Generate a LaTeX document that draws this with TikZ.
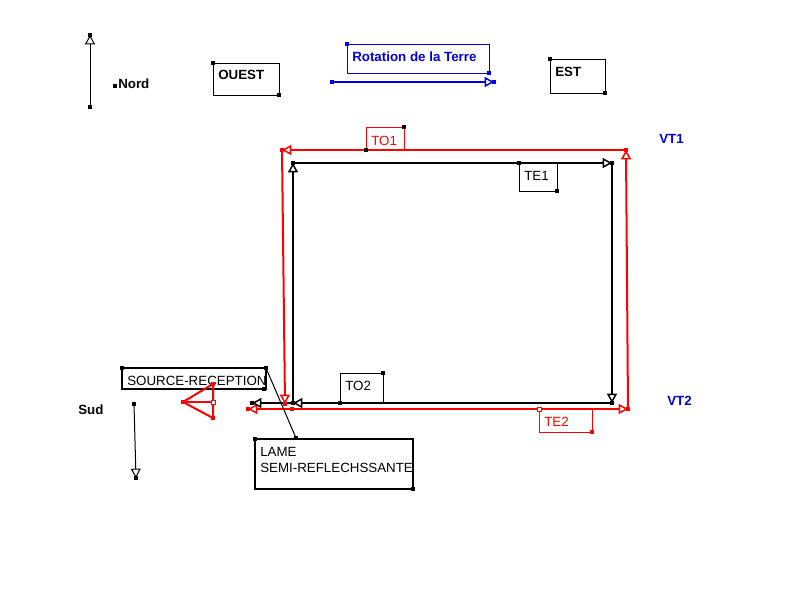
\documentclass[tikz,border=0pt]{standalone}
\usepackage{fontspec}
\setmainfont{Liberation Sans}
\usetikzlibrary{arrows.meta}
\definecolor{bleu}{RGB}{0,0,225}
\begin{document}
\begin{tikzpicture}[x=0.75pt,y=-0.75pt,every node/.style={font=\fontsize{10}{12}\selectfont,inner sep=0pt,anchor=west},>={Triangle[open,length=7pt,width=7.5pt,line width=1.1pt]},epais/.style={line width=1.5pt},fin/.style={line width=0.75pt},gras/.style={font=\fontsize{10}{12}\selectfont\bfseries},poignee/.style={fill,inner sep=0pt,minimum size=2.4pt,anchor=center}]
\useasboundingbox (0,0) rectangle (796,596);
\coordinate (n0) at (90,107); \coordinate (n1) at (90,35);
\coordinate (s0) at (134,404); \coordinate (s1) at (136,478);
\draw[fin,->,>={Triangle[open,length=7pt,width=7.5pt,line width=0.75pt]}] (n0)--(n1);
\draw[fin,->,>={Triangle[open,length=7pt,width=7.5pt,line width=0.75pt]}] (s0)--(s1);
\node[gras] (nord) at (118,84) {Nord};
\node[gras] (sud) at (78,410) {Sud};
\draw[fin] (213,63) rectangle (279,95); \node[gras] (ouest) at (218,75) {OUEST};
\draw[fin] (550,59) rectangle (605,93); \node[gras] (est) at (555,72) {EST};
\draw[fin,bleu] (347,44) rectangle (489,73); \node[gras,bleu] (rot) at (352,57) {Rotation de la Terre};
\coordinate (r0) at (332,82); \coordinate (r1) at (494,82);
\draw[epais,bleu,->] (r0)--(r1);
\coordinate (o1) at (282,150); \coordinate (o2) at (285,404);
\coordinate (t1) at (626,150); \coordinate (t2) at (628,409);
\coordinate (e0) at (292,409); \coordinate (e1) at (248,409);
\draw[epais,red,->] (t1)--(o1); \draw[epais,red,->] (o1)--(o2);
\draw[epais,red,->] (e0)--(t2); \draw[epais,red,->] (e0)--(e1);
\draw[epais,red,->] (t2)--(t1);
\coordinate (b1) at (293,163); \coordinate (b2) at (612,163);
\coordinate (b3) at (612,403); \coordinate (b4) at (293,403);
\coordinate (b5) at (252,403);
\draw[epais,->] (b1)--(b2); \draw[epais,->] (b2)--(b3);
\draw[epais,->] (b3)--(b4); \draw[epais,->] (b4)--(b5);
\draw[epais,->] (b4)--(b1);
\draw[fin,red] (366,150) rectangle (404,127); \node[red] (to1) at (371,141) {TO1};
\draw[fin] (519,163) rectangle (557,191); \node (te1) at (524,176) {TE1};
\draw[fin] (340,403) rectangle (383,373); \node (to2) at (345,386) {TO2};
\draw[fin,red] (539,409) rectangle (592,432); \node[red] (te2) at (544,422) {TE2};
\node[gras,bleu] (vt1) at (659,139) {VT1};
\node[gras,bleu] (vt2) at (667,401) {VT2};
\coordinate (src) at (266,368); \coordinate (lame) at (296,438);
\draw[epais] (122,368) rectangle (src|-0,389); \node (source) at (127,381) {SOURCE-RECEPTION};
\draw[epais] (255,439) rectangle (413,489);
\node (lame1) at (260,452) {LAME}; \node (lame2) at (260,468) {SEMI-REFLECHSSANTE};
\draw[fin] (src)--(lame);
\coordinate (p0) at (183,402); \coordinate (p1) at (213,384);
\coordinate (p2) at (213,418); \coordinate (p3) at (213,402);
\draw[epais,red] (p0)--(p1)--(p2)--cycle; \draw[epais,red] (p0)--(p3);
\draw[fin,red,fill=white] (211,400) rectangle (215,404);
\draw[fin,red,fill=white] (537,407) rectangle (541,411);
\foreach \p in {(n0),(n1),(s0),(s1),(115,86),(213,63),(279,95),(550,59),(605,93),(519,163),(557,191),(340,403),(383,373),(366,150),(404,127),(122,368),(src),(264,389),(255,439),(413,489),(lame),(b1),(b2),(b3),(b4),(b5)}
  \node[poignee] at \p {};
\foreach \p in {(r0),(r1),(347,44),(489,73)}
  \node[poignee,bleu] at \p {};
\foreach \p in {(o1),(t1),(t2),(e0),(e1),(o2),(592,432),(p0),(p1),(p2)}
  \node[poignee,red] at \p {};
\end{tikzpicture}
\end{document}
